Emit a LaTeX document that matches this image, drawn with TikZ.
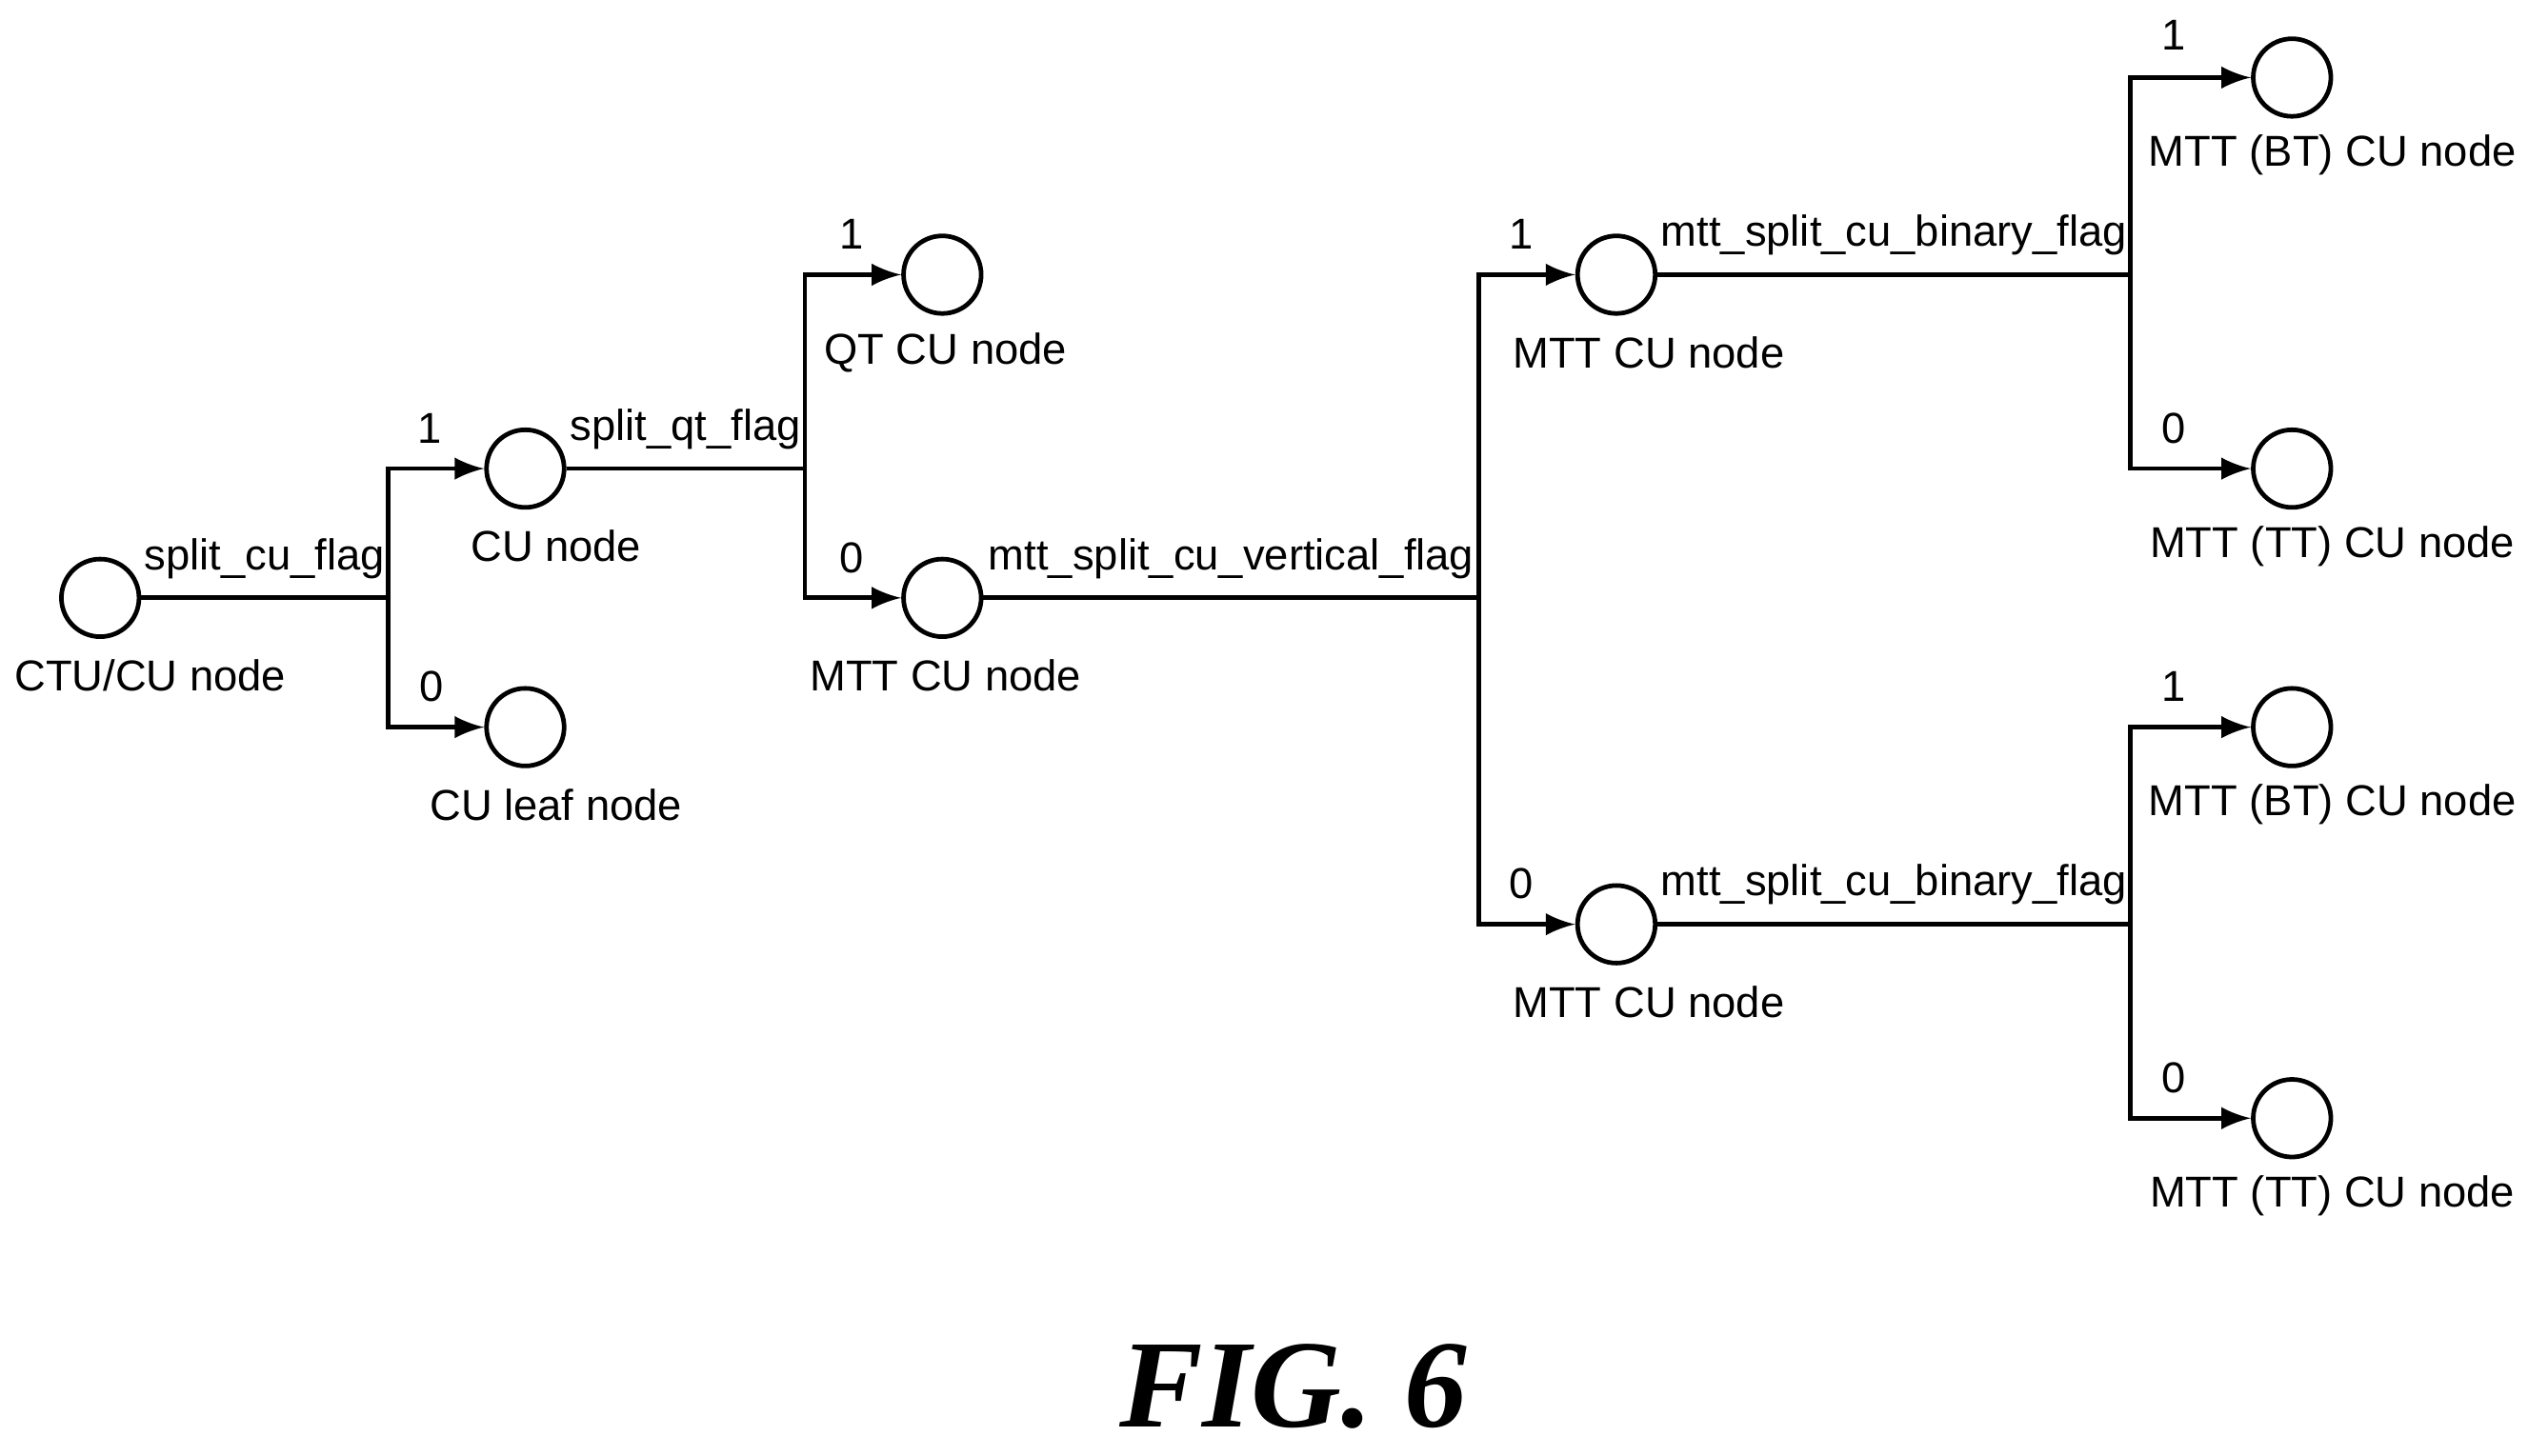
\documentclass[tikz,border=0pt]{standalone}
\usepackage{fontspec}
\setmainfont{Liberation Serif}
\setsansfont{Liberation Sans}
\usetikzlibrary{arrows,positioning}
\begin{document}
\begin{tikzpicture}[x=0.01cm,y=-0.01cm,
    cnode/.style={draw, thick, circle, minimum size=0.48cm, inner sep=0pt},
    lbl/.style={font=\sffamily\fontsize{7.6}{9}\selectfont, inner sep=1pt},
    arr/.style={thick, -latex}]
    \useasboundingbox (0,0) rectangle (1564,901);
    % circles
    \node[cnode] (ctu) at (62,370) {};
    \node[cnode] (cu) at (325,290) {};
    \node[cnode] (leaf) at (325,450) {};
    \node[cnode] (qt) at (583,170) {};
    \node[cnode] (mtt) at (583,370) {};
    \node[cnode] (mtta) at (1000,170) {};
    \node[cnode] (mttb) at (1000,572) {};
    \node[cnode] (bta) at (1418,48) {};
    \node[cnode] (tta) at (1418,290) {};
    \node[cnode] (btb) at (1418,450) {};
    \node[cnode] (ttb) at (1418,692) {};
    % node names
    \node[lbl] at (93,418) {CTU/CU node};
    \node[lbl] at (344,338) {CU node};
    \node[lbl] at (344,498) {CU leaf node};
    \node[lbl] at (585,218) {QT CU node};
    \node[lbl] at (585,418) {MTT CU node};
    \node[lbl] at (1020,218) {MTT CU node};
    \node[lbl] at (1020,620) {MTT CU node};
    \node[lbl] at (1443,96) {MTT (BT) CU node};
    \node[lbl] at (1443,338) {MTT (TT) CU node};
    \node[lbl] at (1443,498) {MTT (BT) CU node};
    \node[lbl] at (1443,740) {MTT (TT) CU node};
    % branch points
    \coordinate (s1) at (240,370);
    \coordinate (s2) at (498,290);
    \coordinate (s3) at (915,370);
    \coordinate (s4) at (1318,170);
    \coordinate (s5) at (1318,572);
    % connectors
    \draw[thick] (ctu) -- node[lbl, above=2pt] {split\_cu\_flag} (s1);
    \draw[arr] (s1) |- (cu);
    \draw[arr] (s1) |- (leaf);
    \draw[thick] (cu) -- node[lbl, above=2pt] {split\_qt\_flag} (s2);
    \draw[arr] (s2) |- (qt);
    \draw[arr] (s2) |- (mtt);
    \draw[thick] (mtt) -- node[lbl, above=2pt] {mtt\_split\_cu\_vertical\_flag} (s3);
    \draw[arr] (s3) |- (mtta);
    \draw[arr] (s3) |- (mttb);
    \draw[thick] (mtta) -- node[lbl, above=2pt] {mtt\_split\_cu\_binary\_flag} (s4);
    \draw[arr] (s4) |- (bta);
    \draw[arr] (s4) |- (tta);
    \draw[thick] (mttb) -- node[lbl, above=2pt] {mtt\_split\_cu\_binary\_flag} (s5);
    \draw[arr] (s5) |- (btb);
    \draw[arr] (s5) |- (ttb);
    % bit values
    \node[lbl] at (266,265) {1};
    \node[lbl] at (267,425) {0};
    \node[lbl] at (527,145) {1};
    \node[lbl] at (527,345) {0};
    \node[lbl] at (941,145) {1};
    \node[lbl] at (941,547) {0};
    \node[lbl] at (1345,22) {1};
    \node[lbl] at (1345,265) {0};
    \node[lbl] at (1345,425) {1};
    \node[lbl] at (1345,667) {0};
    \node[font=\bfseries\itshape\fontsize{22}{26}\selectfont] at (800,858) {FIG.\ 6};
\end{tikzpicture}
\end{document}
